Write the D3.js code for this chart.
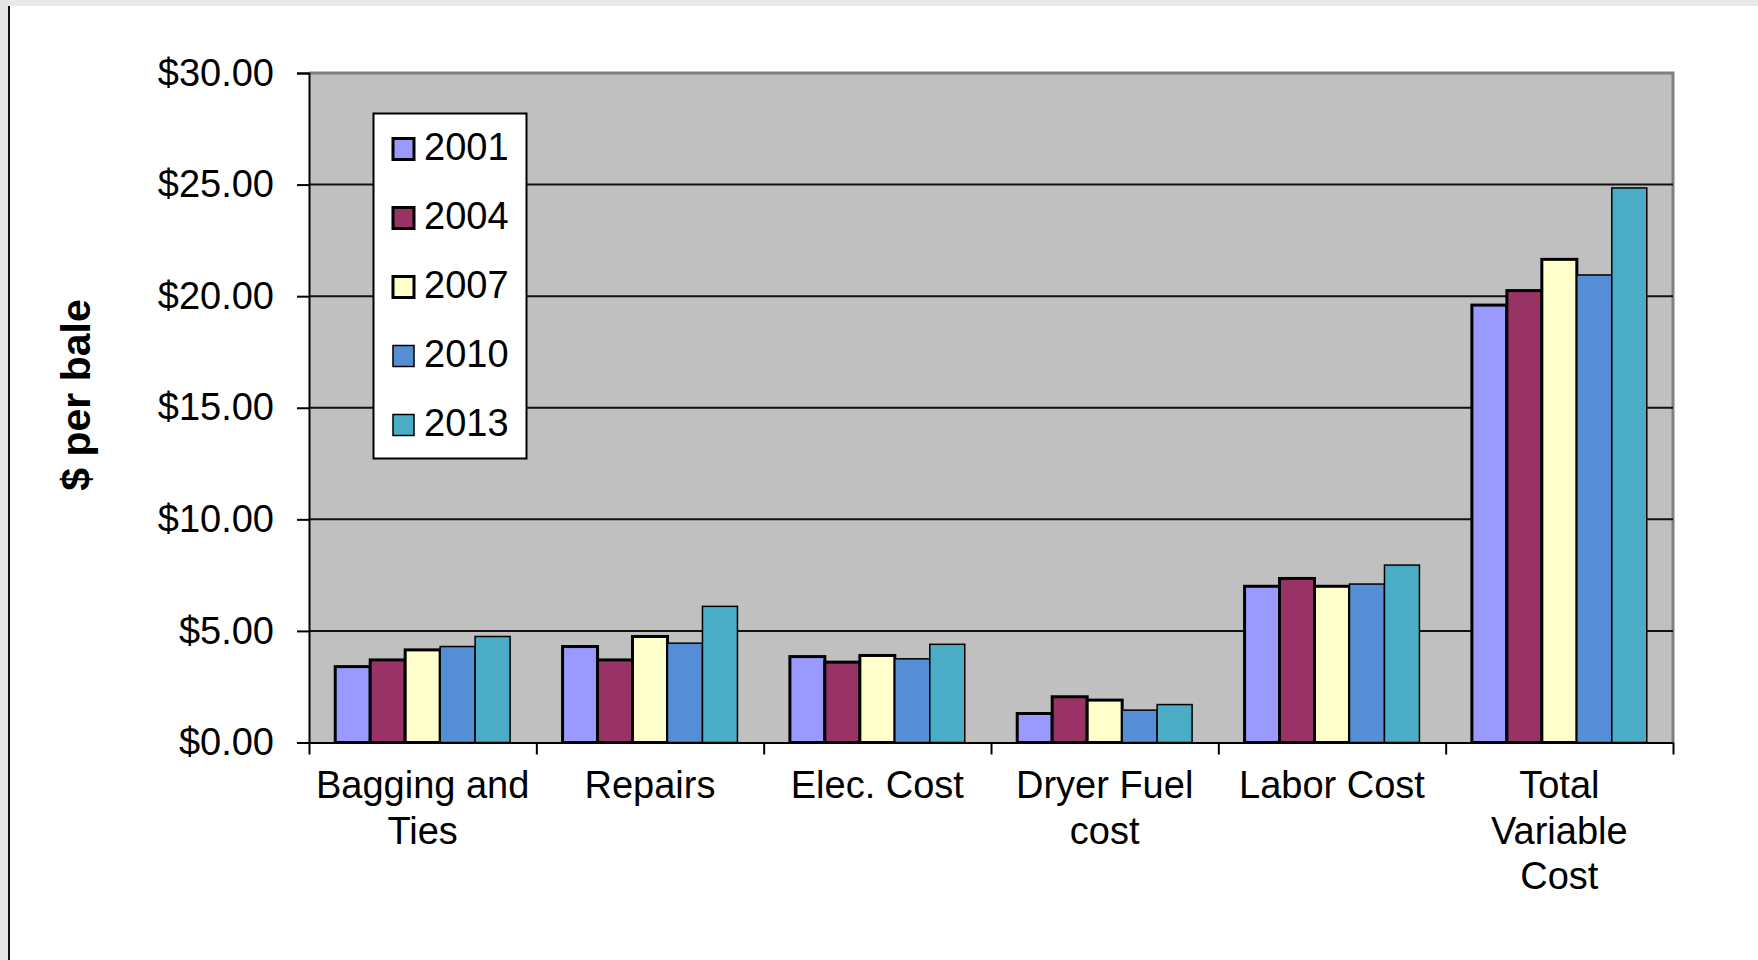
<!DOCTYPE html>
<html>
<head>
<meta charset="utf-8">
<script src="https://cdn.jsdelivr.net/npm/d3@7"></script>
<style>
  body { margin: 0; background: #fff; }
  svg text { font-family: "Liberation Sans", Arial, sans-serif; fill: #000; }
</style>
</head>
<body>
<svg id="chart" width="1758" height="960"></svg>
<script>
// data ($ per bale)
var categories = ["Bagging and Ties", "Repairs", "Elec. Cost", "Dryer Fuel cost", "Labor Cost", "Total Variable Cost"];
var categoryLines = [["Bagging and", "Ties"], ["Repairs"], ["Elec. Cost"], ["Dryer Fuel", "cost"], ["Labor Cost"], ["Total", "Variable", "Cost"]];
var years = ["2001", "2004", "2007", "2010", "2013"];
var v2001 = [3.4, 4.3, 3.85, 1.3, 7.0, 19.6];
var v2004 = [3.7, 3.7, 3.6, 2.05, 7.35, 20.25];
var v2007 = [4.15, 4.75, 3.9, 1.9, 7.0, 21.65];
var v2010 = [4.3, 4.45, 3.75, 1.45, 7.1, 20.95];
var v2013 = [4.75, 6.1, 4.4, 1.7, 7.95, 24.85];
var yTicks = [0, 5, 10, 15, 20, 25, 30];
var colors = ["#9999ff", "#993366", "#ffffcc", "#558ed5", "#4bacc6"];

var seriesValues = [v2001, v2004, v2007, v2010, v2013];
var rows = categories.map(function(c, i){
    var row = { category: c };
    years.forEach(function(yr, j){ row[yr] = seriesValues[j][i]; });
    return row;
});

var svg = d3.select("#chart");

// page frame
svg.append("rect").attr("x", 0).attr("y", 0).attr("width", 1758).attr("height", 6).attr("fill", "#e8e8e8");
svg.append("rect").attr("x", 0).attr("y", 0).attr("width", 8).attr("height", 960).attr("fill", "#e6e6e6");
svg.append("line").attr("x1", 9).attr("x2", 9).attr("y1", 6).attr("y2", 960)
    .attr("stroke", "#111").attr("stroke-width", 2);

var plotLeft = 309, plotRight = 1673, plotTop = 73, plotBottom = 742.5;

// Scales
var x0 = d3.scaleBand().domain(categories).range([plotLeft, plotRight]).padding(0);
var gapHalf = x0.bandwidth() * 0.75 / 6.5;
var x1 = d3.scaleBand().domain(years)
    .range([gapHalf, x0.bandwidth() - gapHalf]).padding(0);
var y = d3.scaleLinear().domain([0, 30]).range([plotBottom, plotTop]);
var color = d3.scaleOrdinal().domain(years).range(colors);

// plot area
svg.append("rect")
    .attr("x", plotLeft).attr("y", plotTop)
    .attr("width", plotRight - plotLeft).attr("height", plotBottom - plotTop)
    .attr("fill", "#c0c0c0");
svg.append("path")
    .attr("d", "M" + plotLeft + "," + plotTop + "H" + plotRight + "V" + plotBottom)
    .attr("fill", "none").attr("stroke", "#808080").attr("stroke-width", 3);

// gridlines
svg.append("g").selectAll("line")
    .data(yTicks.filter(function(d){ return d > 0 && d < 30; }))
    .enter().append("line")
        .attr("x1", plotLeft).attr("x2", plotRight)
        .attr("y1", function(d){ return y(d); })
        .attr("y2", function(d){ return y(d); })
        .attr("stroke", "#111").attr("stroke-width", 2);

// bars
var groups = svg.append("g").selectAll("g")
    .data(rows)
    .enter().append("g")
        .attr("transform", function(d){ return "translate(" + x0(d.category) + ",0)"; });

groups.selectAll("rect")
    .data(function(d){ return years.map(function(yr){ return { year: yr, value: d[yr] }; }); })
    .enter().append("rect")
        .attr("x", function(d){ return x1(d.year); })
        .attr("y", function(d){ return y(d.value); })
        .attr("width", x1.bandwidth())
        .attr("height", function(d){ return plotBottom - y(d.value); })
        .attr("fill", function(d){ return color(d.year); })
        .attr("stroke", "#000")
        .attr("stroke-width", function(d, i){ return i < 3 ? 3 : 1.5; });

// Y Axis
var yAxisCall = d3.axisLeft(y)
    .tickValues(yTicks)
    .tickSize(12)
    .tickPadding(23)
    .tickFormat(function(d){ return "$" + d.toFixed(2); });
var yAxis = svg.append("g")
    .attr("transform", "translate(" + plotLeft + ",0)")
    .call(yAxisCall);
yAxis.select(".domain").attr("stroke", "#000").attr("stroke-width", 2);
yAxis.selectAll(".tick line").attr("stroke", "#000").attr("stroke-width", 2);
yAxis.selectAll(".tick text")
    .attr("font-size", "38px")
    .attr("font-family", "Liberation Sans, Arial, sans-serif")
    .attr("fill", "#000");

// X Axis (ticks between categories)
var xb = d3.scaleLinear().domain([0, categories.length]).range([plotLeft, plotRight]);
var xAxisCall = d3.axisBottom(xb)
    .tickValues(d3.range(categories.length + 1))
    .tickSize(12)
    .tickSizeOuter(0)
    .tickFormat("");
var xAxis = svg.append("g")
    .attr("transform", "translate(0," + plotBottom + ")")
    .call(xAxisCall);
xAxis.select(".domain").attr("stroke", "#000").attr("stroke-width", 2);
xAxis.selectAll(".tick line").attr("stroke", "#000").attr("stroke-width", 2);

// category labels
svg.append("g").selectAll("text")
    .data(categories)
    .enter().append("text")
        .attr("text-anchor", "middle")
        .attr("font-size", "38px")
        .each(function(d, i){
            var t = d3.select(this);
            var cx = x0(d) + x0.bandwidth() / 2;
            categoryLines[i].forEach(function(line, k){
                t.append("tspan")
                    .attr("x", cx)
                    .attr("y", 798 + k * 45.5)
                    .text(line);
            });
        });

// Y label
svg.append("text")
    .attr("transform", "translate(90,395) rotate(-90)")
    .attr("text-anchor", "middle")
    .attr("font-size", "41px")
    .attr("font-weight", "bold")
    .text("$ per bale");

// Legend
var legend = svg.append("g");
legend.append("rect")
    .attr("x", 373.5).attr("y", 113.5)
    .attr("width", 153).attr("height", 345)
    .attr("fill", "#fff").attr("stroke", "#000").attr("stroke-width", 2);

years.forEach(function(yr, i){
    var cy = 149 + i * 69;
    var row = legend.append("g").attr("transform", "translate(0," + cy + ")");
    row.append("rect")
        .attr("x", 393).attr("y", -10.5)
        .attr("width", 21).attr("height", 21)
        .attr("fill", color(yr))
        .attr("stroke", "#000")
        .attr("stroke-width", i < 3 ? 3 : 1.5);
    row.append("text")
        .attr("x", 424)
        .attr("y", 11)
        .attr("font-size", "38px")
        .text(yr);
});
</script>
</body>
</html>
